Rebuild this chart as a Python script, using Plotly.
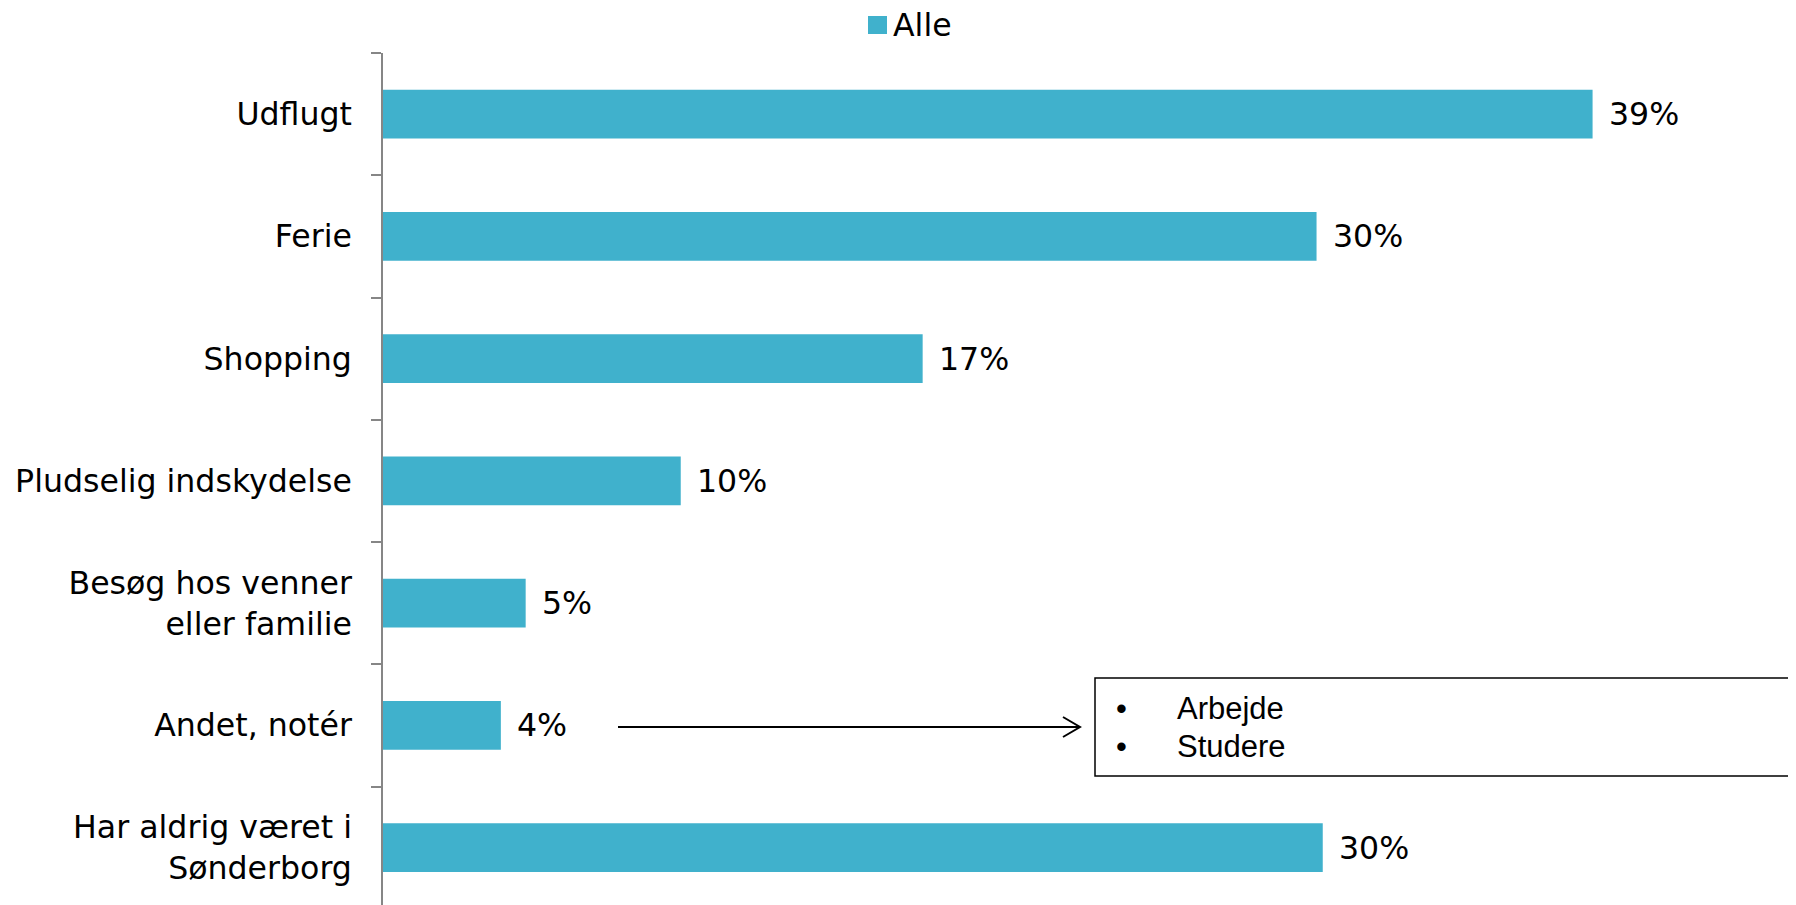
import plotly.graph_objects as go

# ---- data ----
categories = ["Udflugt", "Ferie", "Shopping", "Pludselig indskydelse",
              "Besøg hos venner<br>eller familie", "Andet, notér",
              "Har aldrig været i<br>Sønderborg"]
values = [39.0, 30.1, 17.4, 9.6, 4.6, 3.8, 30.3]
value_labels = ["39%", "30%", "17%", "10%", "5%", "4%", "30%"]
series_name = "Alle"
other_answers = ["Arbejde", "Studere"]

# ---- layout geometry (page px; the html body adds an 8px margin) ----
OFF = 8
W, H = 1796 - OFF, 905 - OFF
L, T, R, B = 383 - OFF, 53 - OFF, 0, 0
PX_PER_UNIT = 31.015
XMAX = (W - L - R) / PX_PER_UNIT
BAR_COLOR = "#40B1CC"
FONT = "DejaVu Sans"
FS = 31.6


def px_x(px):
    return (px - OFF - L) / (W - L - R)


def px_y(py):
    return (H - B - (py - OFF)) / (H - T - B)


fig = go.Figure()
fig.add_trace(go.Bar(
    x=values, y=categories, orientation="h",
    marker=dict(color=BAR_COLOR, line=dict(width=0)),
    width=0.4, name=series_name, showlegend=False,
    hoverinfo="x+y",
))

annotations = []
for v, c, lab in zip(values, categories, value_labels):
    annotations.append(dict(
        x=v, y=c, xref="x", yref="y", text=lab, showarrow=False,
        xanchor="left", yanchor="middle", xshift=14,
        font=dict(family=FONT, size=FS, color="black"),
    ))

# legend (drawn as swatch + text)
shapes = [dict(type="rect", xref="paper", yref="paper",
               x0=px_x(868), x1=px_x(887), y0=px_y(34), y1=px_y(16),
               fillcolor=BAR_COLOR, line=dict(width=0))]
annotations.append(dict(
    x=px_x(891), y=px_y(25), xref="paper", yref="paper", text=series_name,
    showarrow=False, xanchor="left", yanchor="middle",
    font=dict(family=FONT, size=FS, color="black"),
))

# arrow from "Andet" to box
ay = 727
shapes.append(dict(type="line", xref="paper", yref="paper",
                   x0=px_x(618), x1=px_x(1080), y0=px_y(ay), y1=px_y(ay),
                   line=dict(color="black", width=2)))
shapes.append(dict(type="path", xref="paper", yref="paper",
                   path=f"M {px_x(1063)},{px_y(ay-10)} L {px_x(1080)},{px_y(ay)} L {px_x(1063)},{px_y(ay+10)}",
                   line=dict(color="black", width=2)))
# box
shapes.append(dict(type="rect", xref="paper", yref="paper",
                   x0=px_x(1095), x1=px_x(1810), y0=px_y(776), y1=px_y(678),
                   line=dict(color="black", width=1.5), fillcolor="rgba(0,0,0,0)"))
for i, txt in enumerate(other_answers):
    yy = 708 + i * 38
    annotations.append(dict(x=px_x(1121), y=px_y(yy), xref="paper", yref="paper",
                            text="•", showarrow=False, xanchor="center", yanchor="middle",
                            font=dict(family="Liberation Sans", size=31, color="black")))
    annotations.append(dict(x=px_x(1175), y=px_y(yy), xref="paper", yref="paper",
                            text=txt, showarrow=False, xanchor="left", yanchor="middle",
                            font=dict(family="Liberation Sans", size=31, color="black")))

fig.update_layout(
    width=W, height=H,
    margin=dict(l=L, r=R, t=T, b=B, pad=0),
    paper_bgcolor="white", plot_bgcolor="white",
    showlegend=False,
    font=dict(family=FONT, size=FS, color="black"),
    xaxis=dict(visible=False, range=[0, XMAX], showgrid=False, zeroline=False),
    yaxis=dict(
        type="category", categoryorder="array", categoryarray=categories,
        range=[6.469, -0.5],
        showline=True, linecolor="#868686", linewidth=1.5,
        ticks="outside", tickson="boundaries", ticklen=10, tickwidth=1.5,
        tickcolor="#868686", ticklabelstandoff=23,
        showgrid=False, zeroline=False,
        tickfont=dict(family=FONT, size=FS, color="black"),
    ),
    shapes=shapes, annotations=annotations,
    bargap=0.6,
)

fig.write_html("out.html")
